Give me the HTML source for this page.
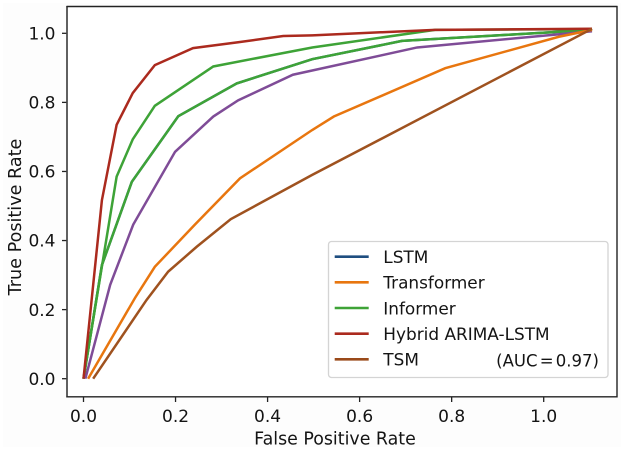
<!DOCTYPE html>
<html>
<head>
<meta charset="utf-8">
<style>
html,body{margin:0;padding:0;background:#fff;}
body{width:624px;height:451px;overflow:hidden;}
svg{display:block;filter:blur(0.35px);}
text{font-family:"DejaVu Sans","Liberation Sans",sans-serif;fill:#141414;}
</style>
</head>
<body>
<svg id="chart" width="624" height="451" viewBox="0 0 624 451" xmlns="http://www.w3.org/2000/svg">
<rect x="3" y="3" width="618" height="444" fill="#fdfdfd"/>
<rect x="67" y="6.5" width="550" height="390" fill="#ffffff"/>
<g id="ticks"></g>
<g id="lines"></g>
<line x1="67" y1="6" x2="67" y2="397.5" stroke="#444" stroke-width="1.7"/>
<line x1="66.5" y1="6.5" x2="617.5" y2="6.5" stroke="#222" stroke-width="1.4"/>
<line x1="617" y1="6" x2="617" y2="397.5" stroke="#222" stroke-width="1.4"/>
<line x1="66.5" y1="396.8" x2="617.5" y2="396.8" stroke="#222" stroke-width="1.4"/>
<text x="335" y="444.5" font-size="17.4" text-anchor="middle">False Positive Rate</text>
<text transform="translate(21,217) rotate(-90)" font-size="17.6" text-anchor="middle">True Positive Rate</text>
<g>
<rect x="328.5" y="241.5" width="279.5" height="136" rx="3" fill="#fff" fill-opacity="0.9" stroke="#d4d4d4" stroke-width="1.3"/>
<g id="legend-rows"></g>
<text x="599" y="366.5" font-size="16.5" word-spacing="-3" text-anchor="end">(AUC = 0.97)</text>
</g>
</svg>
<script>
const xTickLabels = ["0.0", "0.2", "0.4", "0.6", "0.8", "1.0"];
const yTickLabels = ["0.0", "0.2", "0.4", "0.6", "0.8", "1.0"];
const legendLabels = ["LSTM", "Transformer", "Informer", "Hybrid ARIMA-LSTM", "TSM"];

const lstmFpr = [0, 0.04, 0.105, 0.206, 0.333, 0.497, 0.692, 1.105];
const lstmTpr = [0, 0.329, 0.57, 0.76, 0.855, 0.925, 0.978, 1.01];

const transformerFpr = [0.01, 0.112, 0.155, 0.242, 0.34, 0.497, 0.544, 0.786, 1.033, 1.105];
const transformerTpr = [0, 0.234, 0.324, 0.446, 0.58, 0.72, 0.759, 0.899, 0.99, 1.01];

const informerFpr = [0, 0.072, 0.107, 0.155, 0.282, 0.497, 0.764, 1.105];
const informerTpr = [0, 0.585, 0.693, 0.79, 0.904, 0.959, 1.01, 1.012];

const informerAltFpr = [0, 0.04, 0.105, 0.206, 0.333, 0.497, 0.692, 1.105];
const informerAltTpr = [0, 0.329, 0.57, 0.76, 0.855, 0.925, 0.978, 1.01];

const purpleFpr = [0.004, 0.058, 0.108, 0.199, 0.282, 0.336, 0.455, 0.725, 1.105];
const purpleTpr = [0, 0.272, 0.446, 0.657, 0.759, 0.806, 0.88, 0.959, 1.006];

const tsmFpr = [0.021, 0.137, 0.184, 0.246, 0.32, 0.497, 1.105];
const tsmTpr = [0, 0.228, 0.31, 0.382, 0.462, 0.59, 1.013];

const hybridFpr = [0, 0.04, 0.072, 0.107, 0.155, 0.238, 0.336, 0.434, 0.497, 0.764, 1.105];
const hybridTpr = [0, 0.517, 0.735, 0.827, 0.908, 0.957, 0.974, 0.992, 0.994, 1.01, 1.013];

const NS = "http://www.w3.org/2000/svg";
function sx(v) { return 83.5 + v * 460.2; }
function sy(v) { return 378.7 - v * 345.4; }

function node(tag, attrs, parent) {
  const el = document.createElementNS(NS, tag);
  for (const k in attrs) el.setAttribute(k, attrs[k]);
  parent.appendChild(el);
  return el;
}

const ticks = document.getElementById("ticks");
xTickLabels.forEach(function (lab) {
  const v = parseFloat(lab);
  const t = node("line", { x1: sx(v), x2: sx(v), y1: 397, y2: 402, stroke: "#222", "stroke-width": 1.3 }, ticks);
  
  
  const l = node("text", { x: sx(v), y: 422, "font-size": 17, "text-anchor": "middle" }, ticks);
  l.textContent = lab;
  
  
});
yTickLabels.forEach(function (lab) {
  const v = parseFloat(lab);
  const t = node("line", { x1: 62, x2: 67, y1: sy(v), y2: sy(v), stroke: "#222", "stroke-width": 1.3 }, ticks);
  
  
  const l = node("text", { x: 55.5, y: sy(v) + 6.2, "font-size": 17, "text-anchor": "end" }, ticks);
  l.textContent = lab;
  
  
});

const lines = document.getElementById("lines");
function drawCurve(fpr, tpr, color, name) {
  const pts = fpr.map(function (f, i) { return sx(f).toFixed(2) + "," + sy(tpr[i]).toFixed(2); }).join(" ");
  const p = node("polyline", { points: pts, fill: "none", stroke: color, "stroke-width": 2.5, "stroke-linejoin": "miter" }, lines);
  
  
}
drawCurve(lstmFpr, lstmTpr, "#1f5a8a", "curve-lstm");
drawCurve(informerAltFpr, informerAltTpr, "#3ea337", "curve-informer-lower");
drawCurve(informerFpr, informerTpr, "#3ea337", "curve-informer");
drawCurve(purpleFpr, purpleTpr, "#7f4c97", "curve-purple");
drawCurve(transformerFpr, transformerTpr, "#e8760f", "curve-transformer");
drawCurve(hybridFpr, hybridTpr, "#ab2a1e", "curve-hybrid-arima-lstm");
drawCurve(tsmFpr, tsmTpr, "#9f521f", "curve-tsm");

const legendColors = ["#1f4e80", "#e8760f", "#3ea337", "#ab2a1e", "#9a4a1a"];
const legendRows = document.getElementById("legend-rows");
legendLabels.forEach(function (lab, i) {
  const rowY = 256.7 + i * 25.65;
  const sw = node("line", { x1: 334.7, x2: 368.7, y1: rowY, y2: rowY, stroke: legendColors[i], "stroke-width": 2.6 }, legendRows);
  
  
  const t = node("text", { x: 383.3, y: rowY + 6.3, "font-size": 16.9 }, legendRows);
  t.textContent = lab;
  
  
});
</script>
</body>
</html>
